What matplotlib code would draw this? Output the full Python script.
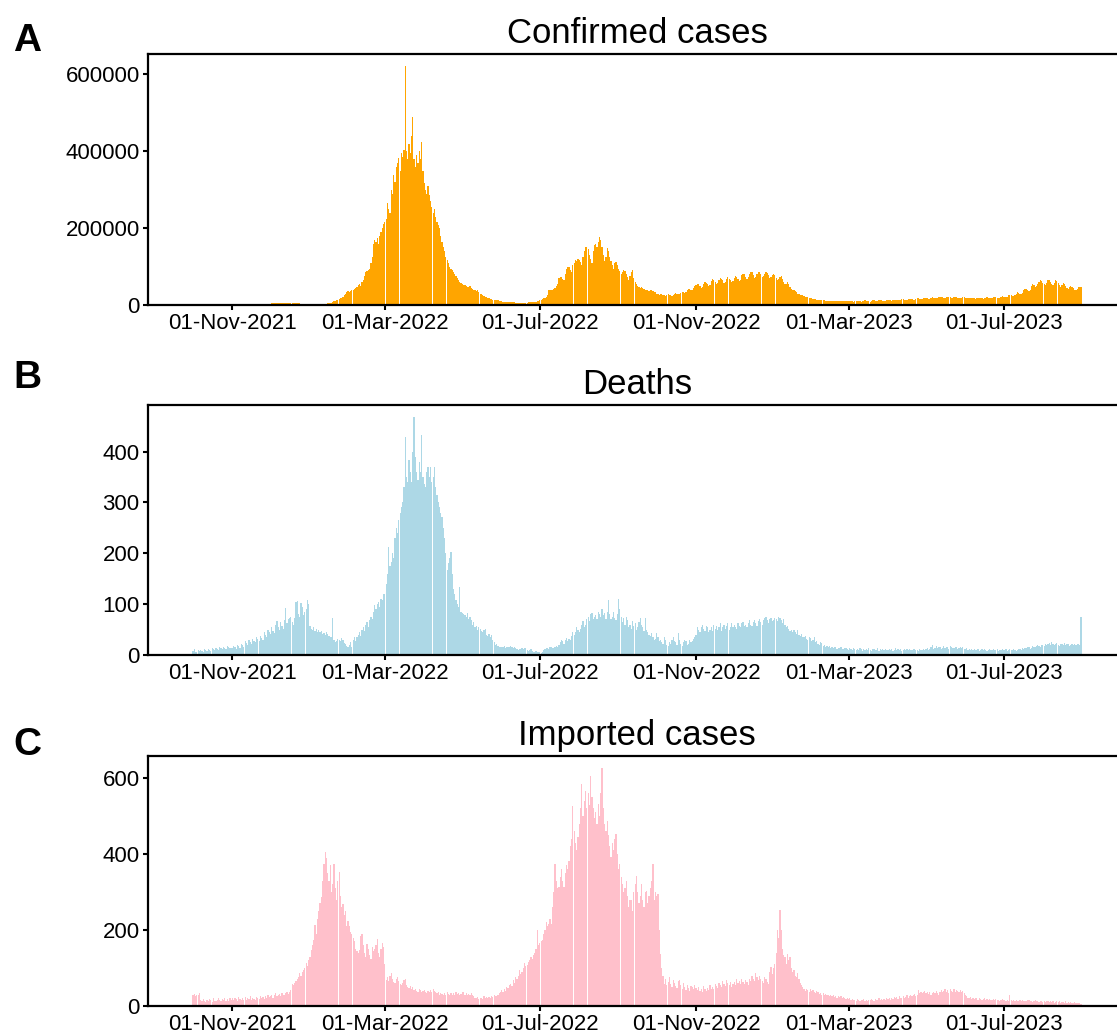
import matplotlib
matplotlib.use("Agg")
import matplotlib.pyplot as plt
import matplotlib.dates as mdates
from matplotlib.ticker import MultipleLocator
import numpy as np
import pandas as pd

plt.rcParams['font.family'] = ['Liberation Sans', 'DejaVu Sans']

start_date = "2021-10-01"

# daily confirmed cases, in thousands (one row per month, Oct 2021 - Aug 2023)
confirmed_k = [
    0.1, 0.1, 0.2, 0.1, 0.1, 0.2, 0.2, 0.1, 0.2, 0.2, 0.3, 0.2, 0.2, 0.3, 0.3, 0.2, 0.3, 0.4, 0.3, 0.3, 0.4, 0.3, 0.4, 0.5, 0.4, 0.4, 0.5, 0.6, 0.5, 0.5, 0.6,
    0.6, 0.7, 0.6, 0.8, 0.9, 0.8, 1.0, 1.1, 0.9, 1.2, 1.3, 1.2, 1.4, 1.5, 1.3, 1.6, 1.8, 1.7, 2.0, 2.2, 2.0, 2.4, 2.6, 2.5, 2.8, 3.0, 2.9, 3.2, 3.5, 3.4,
    3.8, 4.2, 4.5, 4.0, 4.8, 5.2, 5.0, 5.5, 6.0, 5.6, 5.8, 6.2, 5.9, 5.5, 6.0, 5.8, 5.4, 5.0, 5.2, 4.8, 4.5, 4.2, 4.6, 4.0, 3.8, 3.5, 3.2, 3.0, 2.8, 2.6, 2.5,
    2.4, 2.2, 2.3, 2.1, 2.0, 2.2, 2.4, 2.6, 2.5, 2.8, 3.0, 3.3, 3.5, 3.8, 4.2, 4.5, 5.0, 6.0, 8.0, 9.5, 11, 12, 14, 15, 17, 19, 22, 26, 30, 33, 36,
    35, 37, 40, 38, 42, 45, 48, 52, 55, 50, 60, 65, 75, 85, 88, 90, 95, 110, 125, 160, 170, 165, 175, 160, 180, 190, 200, 210,
    215, 225, 265, 250, 240, 300, 290, 338, 320, 360, 370, 382, 350, 395, 385, 404, 622, 400, 380, 420, 395, 440, 490, 380, 360, 390, 370, 400, 380, 425, 350,
    317, 300, 290, 310, 286, 270, 256, 240, 250, 230, 215, 208, 200, 180, 165, 150, 140, 125, 117, 110, 100, 95, 91, 85, 80, 75, 70, 65, 60, 58,
    55, 53, 52, 50, 48, 46, 50, 45, 42, 40, 38, 36, 38, 33, 30, 28, 26, 24, 22, 20, 19, 18, 16, 15, 14, 14, 13, 12, 12, 11, 10,
    10, 9, 9, 8, 8, 7, 7, 8, 8, 7, 7, 6, 6, 6, 6, 5, 5, 5, 6, 6, 6, 7, 7, 8, 8, 7, 8, 9, 10, 11,
    12, 14, 16, 17, 18, 20, 25, 38, 40, 39, 40, 42, 45, 50, 55, 70, 74, 72, 68, 65, 80, 95, 100, 98, 90, 85, 105, 110, 118, 115, 120,
    118, 112, 105, 125, 140, 150, 152, 145, 130, 120, 110, 140, 155, 160, 150, 165, 178, 170, 150, 130, 115, 125, 148, 140, 125, 115, 105, 95, 110, 113, 105,
    95, 88, 80, 85, 91, 88, 80, 72, 65, 75, 85, 91, 70, 60, 55, 50, 48, 45, 48, 45, 42, 40, 38, 38, 36, 40, 39, 37, 35, 33,
    30, 28, 27, 30, 28, 26, 25, 24, 26, 28, 27, 25, 24, 27, 30, 31, 29, 28, 30, 32, 35, 33, 31, 35, 38, 42, 43, 40, 38, 45, 50,
    52, 55, 56, 50, 45, 48, 55, 60, 58, 55, 50, 52, 62, 68, 66, 60, 55, 58, 65, 70, 69, 64, 58, 60, 68, 72, 69, 65, 60, 62,
    70, 75, 73, 68, 62, 66, 78, 82, 80, 74, 68, 72, 80, 87, 85, 78, 70, 72, 82, 87, 85, 80, 72, 75, 80, 86, 84, 78, 70, 72, 78,
    80, 77, 70, 65, 68, 72, 75, 68, 60, 55, 56, 60, 55, 48, 42, 40, 38, 36, 34, 30, 28, 27, 26, 25, 23, 22, 21, 20, 19, 18, 17,
    16, 15, 15, 14, 14, 13, 13, 12, 12, 12, 11, 11, 11, 11, 10, 10, 11, 10, 10, 10, 10, 10, 10, 11, 10, 10, 10, 10,
    10, 11, 11, 10, 9, 10, 11, 11, 11, 10, 9, 10, 11, 12, 11, 11, 10, 9, 11, 12, 12, 11, 10, 10, 12, 13, 12, 11, 10, 11, 13,
    13, 13, 12, 11, 12, 14, 14, 13, 12, 12, 14, 15, 15, 14, 13, 13, 15, 16, 16, 15, 14, 14, 16, 17, 17, 16, 15, 15, 17, 18,
    18, 17, 16, 16, 18, 20, 19, 18, 17, 17, 20, 22, 21, 20, 18, 18, 21, 22, 21, 20, 18, 18, 20, 21, 20, 19, 17, 17, 19, 20, 20,
    19, 18, 17, 18, 19, 19, 18, 17, 16, 17, 18, 19, 18, 17, 16, 17, 19, 20, 19, 18, 17, 18, 20, 21, 20, 19, 18, 19, 22, 23,
    22, 21, 20, 22, 25, 26, 25, 24, 23, 26, 30, 33, 32, 30, 28, 32, 38, 43, 41, 38, 36, 40, 50, 55, 52, 48, 50, 56, 60, 65, 62,
    58, 55, 52, 58, 65, 64, 60, 55, 52, 58, 65, 63, 58, 52, 48, 52, 58, 55, 50, 45, 42, 46, 50, 48, 44, 40, 38, 42, 48, 46, 48,
]

deaths = [
    8, 12, 5, 6, 9, 7, 10, 8, 6, 11, 9, 7, 12, 10, 8, 13, 11, 9, 14, 12, 10, 15, 13, 11, 16, 14, 12, 17, 15, 13, 14,
    13, 18, 15, 12, 20, 17, 14, 22, 19, 16, 28, 24, 20, 30, 26, 22, 32, 28, 25, 35, 31, 27, 38, 34, 30, 45, 40, 36, 50, 46,
    42, 55, 48, 44, 60, 66, 56, 50, 64, 58, 52, 68, 92, 62, 70, 72, 74, 65, 60, 72, 105, 106, 80, 75, 102, 95, 78, 85, 90, 108, 100,
    58, 52, 50, 55, 48, 52, 46, 50, 45, 48, 42, 44, 40, 45, 42, 38, 36, 35, 72, 30, 26, 28, 32, 30, 28, 33, 30, 24, 22, 18, 16,
    20, 25, 16, 30, 35, 28, 36, 40, 45, 38, 50, 56, 48, 60, 65, 55, 69, 75, 70, 85, 98, 90, 100, 105, 95, 111, 108, 120,
    120, 140, 160, 213, 175, 183, 200, 190, 230, 250, 240, 265, 280, 291, 300, 330, 429, 350, 340, 383, 360, 340, 400, 468, 390, 360, 344, 380, 360, 432, 350,
    337, 330, 360, 370, 350, 370, 340, 350, 370, 330, 314, 300, 290, 280, 272, 250, 230, 200, 167, 180, 190, 203, 160, 130, 120, 108, 100, 95, 134, 85,
    82, 80, 78, 75, 82, 70, 75, 68, 60, 65, 56, 58, 50, 56, 52, 48, 45, 50, 52, 40, 38, 42, 35, 39, 30, 25, 20, 22, 18, 16, 15,
    16, 15, 18, 14, 16, 15, 16, 18, 15, 14, 16, 13, 12, 10, 12, 11, 13, 12, 14, 13, 10, 8, 9, 12, 7, 6, 5, 8, 6, 5,
    5, 4, 6, 10, 12, 13, 14, 12, 15, 16, 14, 13, 16, 18, 15, 20, 25, 30, 28, 22, 30, 33, 28, 32, 30, 38, 46, 40, 45, 55, 50,
    46, 52, 60, 66, 55, 60, 70, 75, 66, 80, 82, 70, 75, 78, 70, 85, 80, 75, 90, 78, 82, 70, 85, 108, 80, 70, 75, 85, 72, 68, 80,
    111, 90, 75, 65, 72, 60, 75, 69, 55, 60, 52, 66, 58, 62, 50, 55, 65, 72, 60, 55, 48, 72, 50, 45, 40, 38, 43, 35, 30, 32,
    43, 35, 28, 30, 25, 22, 36, 30, 20, 18, 26, 22, 30, 36, 28, 25, 20, 43, 30, 22, 18, 25, 30, 28, 20, 22, 30, 26, 28, 32, 35,
    40, 56, 50, 45, 55, 60, 52, 48, 58, 55, 45, 50, 56, 48, 60, 52, 58, 50, 56, 62, 48, 55, 60, 52, 58, 62, 50, 56, 62, 55,
    60, 56, 52, 62, 58, 55, 62, 65, 58, 60, 55, 62, 68, 60, 58, 64, 69, 62, 58, 66, 70, 64, 60, 68, 72, 75, 68, 62, 70, 72, 66,
    68, 72, 70, 66, 74, 72, 68, 62, 70, 60, 55, 58, 52, 48, 49, 46, 50, 45, 42, 49, 40, 38, 42, 36, 35, 38, 32, 30, 36, 33, 28,
    30, 36, 25, 28, 22, 20, 25, 23, 18, 20, 16, 18, 15, 17, 14, 16, 13, 15, 16, 12, 14, 13, 15, 12, 11, 14, 13, 12,
    10, 13, 12, 9, 14, 11, 10, 12, 9, 13, 11, 8, 12, 10, 11, 9, 13, 10, 8, 11, 12, 9, 10, 13, 8, 11, 9, 12, 10, 11, 9,
    10, 12, 9, 11, 8, 10, 13, 9, 11, 10, 12, 8, 10, 11, 9, 12, 10, 11, 9, 10, 12, 11, 9, 10, 8, 11, 10, 9, 12, 10,
    11, 13, 10, 12, 15, 20, 12, 14, 18, 13, 15, 16, 12, 14, 17, 13, 16, 15, 12, 18, 16, 14, 13, 16, 15, 12, 14, 16, 13, 15, 12,
    11, 13, 10, 12, 9, 11, 10, 12, 9, 10, 11, 8, 10, 12, 9, 11, 10, 8, 9, 11, 10, 9, 12, 10, 9, 11, 8, 10, 9, 11,
    10, 9, 11, 8, 10, 12, 9, 10, 11, 9, 8, 10, 12, 11, 9, 13, 12, 14, 13, 16, 15, 12, 14, 18, 16, 15, 17, 20, 18, 16, 19,
    20, 18, 22, 19, 21, 24, 20, 26, 22, 19, 21, 23, 20, 18, 22, 21, 19, 23, 20, 22, 21, 18, 20, 22, 19, 21, 20, 22, 21, 20, 75,
]

imported = [
    29, 32, 25, 30, 28, 33, 15, 12, 18, 14, 10, 16, 13, 18, 15, 11, 20, 14, 12, 17, 22, 15, 13, 19, 16, 21, 14, 18, 12, 20, 17,
    20, 15, 22, 18, 14, 24, 19, 16, 21, 17, 23, 15, 20, 18, 25, 16, 22, 19, 17, 24, 21, 18, 26, 20, 23, 19, 25, 22, 29, 24,
    26, 30, 22, 28, 33, 25, 29, 31, 27, 35, 30, 28, 33, 36, 32, 38, 42, 59, 55, 60, 65, 70, 75, 86, 80, 90, 95, 100, 112, 105, 120,
    130, 147, 160, 175, 212, 190, 230, 250, 270, 287, 330, 374, 405, 390, 350, 330, 370, 300, 320, 374, 310, 280, 330, 352, 290, 260, 269, 240, 250, 210, 225,
    210, 195, 190, 180, 170, 150, 145, 140, 147, 185, 190, 160, 140, 130, 164, 150, 135, 125, 156, 145, 150, 160, 177, 140, 130, 150, 165, 156,
    110, 68, 75, 65, 80, 86, 70, 62, 60, 72, 77, 65, 58, 55, 60, 68, 72, 55, 50, 48, 52, 45, 51, 42, 46, 40, 38, 44, 42, 36, 40,
    42, 38, 35, 40, 36, 42, 38, 45, 40, 36, 33, 38, 30, 35, 32, 28, 34, 30, 36, 32, 29, 35, 30, 33, 28, 36, 31, 34, 30, 32,
    36, 38, 30, 34, 28, 32, 29, 35, 30, 26, 22, 20, 24, 18, 20, 22, 19, 25, 21, 23, 20, 24, 22, 26, 24, 28, 25, 27, 30, 35, 38,
    42, 38, 45, 40, 50, 48, 55, 59, 52, 68, 60, 75, 70, 80, 94, 85, 90, 100, 112, 105, 108, 115, 120, 129, 125, 135, 140, 150, 199, 160,
    165, 170, 173, 190, 200, 221, 210, 215, 230, 217, 260, 300, 374, 330, 310, 313, 340, 360, 330, 313, 350, 370, 360, 383, 420, 440, 527, 460, 430, 410, 444,
    480, 520, 584, 500, 540, 566, 520, 560, 530, 605, 550, 520, 496, 510, 480, 531, 500, 560, 627, 520, 480, 460, 487, 450, 420, 391, 430, 410, 440, 453, 400,
    360, 374, 340, 321, 300, 310, 330, 290, 260, 280, 278, 250, 300, 320, 343, 300, 270, 290, 321, 280, 260, 300, 304, 270, 290, 310, 330, 374, 280, 300,
    290, 295, 200, 138, 100, 80, 59, 70, 55, 62, 75, 58, 50, 68, 60, 52, 48, 65, 68, 55, 45, 60, 50, 42, 55, 48, 40, 52, 51, 45, 55,
    48, 42, 50, 40, 46, 38, 52, 45, 40, 48, 42, 55, 46, 50, 44, 58, 52, 48, 60, 55, 50, 65, 58, 52, 68, 60, 55, 62, 50, 58,
    62, 55, 70, 60, 65, 58, 72, 64, 59, 68, 62, 55, 70, 66, 80, 72, 65, 86, 75, 68, 78, 72, 65, 60, 75, 70, 62, 59, 90, 103, 85,
    100, 110, 140, 200, 180, 252, 200, 150, 135, 129, 110, 138, 120, 129, 100, 90, 95, 80, 75, 86, 70, 60, 55, 50, 46, 40, 45, 42, 38, 44, 40,
    42, 38, 35, 40, 36, 32, 34, 30, 33, 29, 31, 28, 30, 26, 28, 25, 29, 24, 27, 22, 25, 23, 26, 20, 24, 22, 19, 21,
    18, 20, 16, 19, 15, 17, 14, 18, 16, 13, 17, 15, 18, 14, 16, 13, 17, 15, 19, 16, 14, 18, 15, 17, 20, 16, 18, 15, 19, 17, 20,
    18, 21, 17, 22, 19, 24, 20, 23, 18, 25, 21, 22, 26, 20, 24, 28, 22, 26, 30, 25, 28, 32, 27, 30, 42, 35, 38, 33, 36, 40,
    35, 38, 32, 36, 30, 34, 38, 33, 40, 35, 30, 37, 42, 36, 40, 46, 38, 42, 35, 44, 40, 36, 45, 38, 42, 40, 36, 42, 38, 40, 35,
    30, 25, 22, 20, 24, 19, 21, 18, 22, 20, 17, 21, 19, 16, 18, 20, 17, 19, 16, 18, 15, 17, 19, 16, 18, 15, 17, 14, 16, 18,
    15, 17, 14, 16, 13, 28, 15, 14, 16, 13, 15, 12, 14, 16, 13, 15, 12, 14, 13, 15, 16, 12, 14, 11, 13, 15, 12, 14, 11, 13, 12,
    11, 13, 10, 12, 14, 11, 13, 10, 12, 9, 11, 13, 10, 12, 9, 11, 10, 8, 12, 9, 10, 8, 11, 9, 7, 10, 8, 9, 7, 8, 6,
]

titles = ["Confirmed cases", "Deaths", "Imported cases"]
panel_letters = ["A", "B", "C"]
colors = ["orange", "lightblue", "pink"]
y_steps = [200000, 100, 200]

series = [np.array(confirmed_k) * 1000, np.array(deaths), np.array(imported)]

fig = plt.figure(figsize=(11.17, 10.34), dpi=100)

# axes boxes run slightly past the right edge of the canvas
boxes = [
    [0.1325, 0.7050, 0.8756, 0.2427],
    [0.1325, 0.3665, 0.8756, 0.2418],
    [0.1325, 0.0271, 0.8756, 0.2418],
]
letter_y = [0.951, 0.625, 0.270]

for i, values in enumerate(series):
    ax = fig.add_axes(boxes[i])
    dates = pd.date_range(start_date, periods=len(values), freq="D")
    ax.bar(dates, values, width=0.95, color=colors[i], linewidth=0)
    ax.set_title(titles[i], fontsize=25, pad=8)
    ax.yaxis.set_major_locator(MultipleLocator(y_steps[i]))
    ax.xaxis.set_major_locator(mdates.MonthLocator(bymonth=[3, 7, 11], bymonthday=1))
    ax.xaxis.set_major_formatter(mdates.DateFormatter("%d-%b-%Y"))
    ax.tick_params(labelsize=16, width=1.5, length=3.5, pad=2.5)
    for sp in ax.spines.values():
        sp.set_linewidth(1.6)
    fig.text(0.012, letter_y[i], panel_letters[i], fontsize=28, fontweight="bold")

fig.savefig("out.png", dpi=100)
